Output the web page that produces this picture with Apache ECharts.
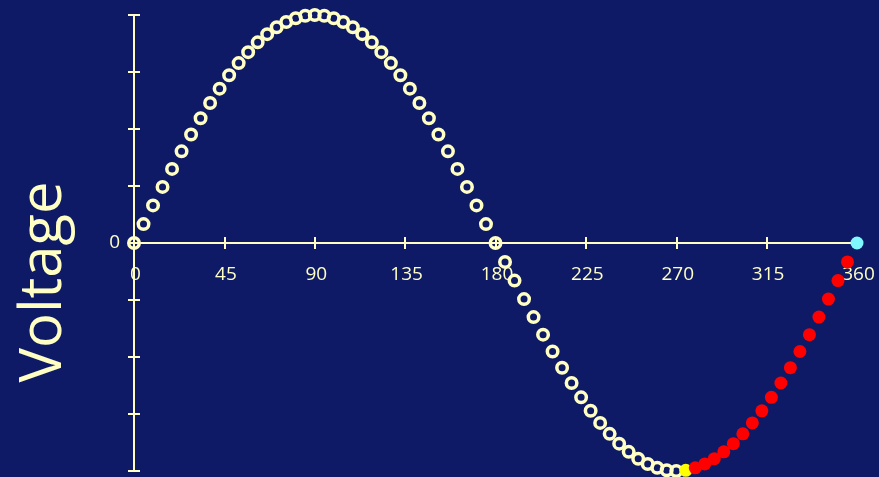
<!DOCTYPE html>
<html>
<head>
<meta charset="utf-8">
<script src="https://cdn.jsdelivr.net/npm/echarts@6/dist/echarts.min.js"></script>
<style>
  html, body { margin: 0; padding: 0; background: #0e1a66; }
  #chart { width: 879px; height: 477px; }
</style>
</head>
<body>
<div id="chart"></div>
<script>
// phase angle of each sample, degrees
var angles = [
    0, 4.74, 9.47, 14.21, 18.95, 23.68, 28.42, 33.16, 37.89, 42.63,
    47.37, 52.11, 56.84, 61.58, 66.32, 71.05, 75.79, 80.53, 85.26, 90,
    94.74, 99.47, 104.21, 108.95, 113.68, 118.42, 123.16, 127.89, 132.63, 137.37,
    142.11, 146.84, 151.58, 156.32, 161.05, 165.79, 170.53, 175.26, 180,
    184.74, 189.47, 194.21, 198.95, 203.68, 208.42, 213.16, 217.89, 222.63, 227.37,
    232.11, 236.84, 241.58, 246.32, 251.05, 255.79, 260.53, 265.26, 270,
    274.74, 279.47, 284.21, 288.95, 293.68, 298.42, 303.16, 307.89, 312.63, 317.37,
    322.11, 326.84, 331.58, 336.32, 341.05, 345.79, 350.53, 355.26, 360
];
// voltage at each sample
var voltage = [
    0, 0.083, 0.165, 0.246, 0.325, 0.402, 0.476, 0.547, 0.614, 0.677,
    0.736, 0.789, 0.837, 0.880, 0.916, 0.946, 0.969, 0.986, 0.997, 1,
    0.997, 0.986, 0.969, 0.946, 0.916, 0.880, 0.837, 0.789, 0.736, 0.677,
    0.614, 0.547, 0.476, 0.402, 0.325, 0.246, 0.165, 0.083, 0,
    -0.083, -0.165, -0.246, -0.325, -0.402, -0.476, -0.547, -0.614, -0.677, -0.736,
    -0.789, -0.837, -0.880, -0.916, -0.946, -0.969, -0.986, -0.997, -1,
    -0.997, -0.986, -0.969, -0.946, -0.916, -0.880, -0.837, -0.789, -0.736, -0.677,
    -0.614, -0.547, -0.476, -0.402, -0.325, -0.246, -0.165, -0.083, 0
];
var xTicks = [0, 45, 90, 135, 180, 225, 270, 315, 360];
var yTicks = [-1, -0.75, -0.5, -0.25, 0, 0.25, 0.5, 0.75, 1];

// sample where the highlighted part starts
var markIndex = 58;
var lastIndex = angles.length - 1;

function pts(from, to) {
    var out = [];
    for (var i = from; i <= to; i++) out.push([angles[i], voltage[i]]);
    return out;
}

var pale = '#ffffc4';
var font = 'Open Sans';
var xMin = xTicks[0], xMax = xTicks[xTicks.length - 1];

// x axis drawn in an upper grid whose bottom edge sits on voltage 0
function xAx(inside) {
    return {
        type: 'value', gridIndex: 1, position: 'bottom',
        min: xMin, max: xMax, interval: 45,
        axisLine: { onZero: false, lineStyle: { color: pale, width: 2 } },
        axisTick: { show: true, inside: inside, length: 6, lineStyle: { color: pale, width: 2 } },
        axisLabel: {
            show: !inside, margin: 22, color: pale, fontSize: 19, fontFamily: font,
            padding: [0, 0, 0, 3]
        },
        splitLine: { show: false }
    };
}
function yAx(inside) {
    return {
        type: 'value', gridIndex: 0, position: 'left',
        min: yTicks[0], max: yTicks[yTicks.length - 1], interval: 0.25,
        axisLine: { show: true, onZero: false, lineStyle: { color: pale, width: 2 } },
        axisTick: { show: true, inside: inside, length: 6, lineStyle: { color: pale, width: 2 } },
        axisLabel: {
            show: !inside, margin: 14, color: pale, fontSize: 19, fontFamily: font,
            padding: [6, 0, 0, 0],
            formatter: function (v) { return v === 0 ? '0' : ''; }
        },
        splitLine: { show: false }
    };
}

var chart = echarts.init(document.getElementById('chart'));
chart.setOption({
    backgroundColor: '#0e1a66',
    animation: false,
    grid: [
        { left: 134, right: 22, top: 15, bottom: 6, containLabel: false, outerBoundsMode: 'none' },
        { left: 134, right: 22, top: 15, bottom: 234, containLabel: false, outerBoundsMode: 'none' }
    ],
    xAxis: [
        { type: 'value', gridIndex: 0, min: xMin, max: xMax, show: false },
        xAx(false),
        xAx(true)
    ],
    yAxis: [
        yAx(false),
        yAx(true),
        { type: 'value', gridIndex: 1, min: 0, max: 1, show: false }
    ],
    graphic: [{
        type: 'text',
        x: 44, y: 282,
        rotation: Math.PI / 2,
        style: {
            text: 'Voltage', fill: pale, fontSize: 58, fontFamily: font,
            align: 'center', verticalAlign: 'middle'
        }
    }],
    series: [
        {
            name: 'trace', type: 'scatter', symbol: 'circle', symbolSize: 10.5,
            itemStyle: { color: 'transparent', borderColor: pale, borderWidth: 3.5, opacity: 1 },
            data: pts(0, markIndex - 1)
        },
        {
            name: 'marker', type: 'scatter', symbol: 'circle', symbolSize: 13,
            itemStyle: { color: '#ffff00', opacity: 1 },
            data: pts(markIndex, markIndex)
        },
        {
            name: 'tail', type: 'scatter', symbol: 'circle', symbolSize: 13,
            itemStyle: { color: '#ff0000', opacity: 1 },
            data: pts(markIndex + 1, lastIndex - 1)
        },
        {
            name: 'end', type: 'scatter', symbol: 'circle', symbolSize: 13,
            itemStyle: { color: '#7ff8ff', opacity: 1 },
            data: pts(lastIndex, lastIndex)
        }
    ]
});
</script>
</body>
</html>
